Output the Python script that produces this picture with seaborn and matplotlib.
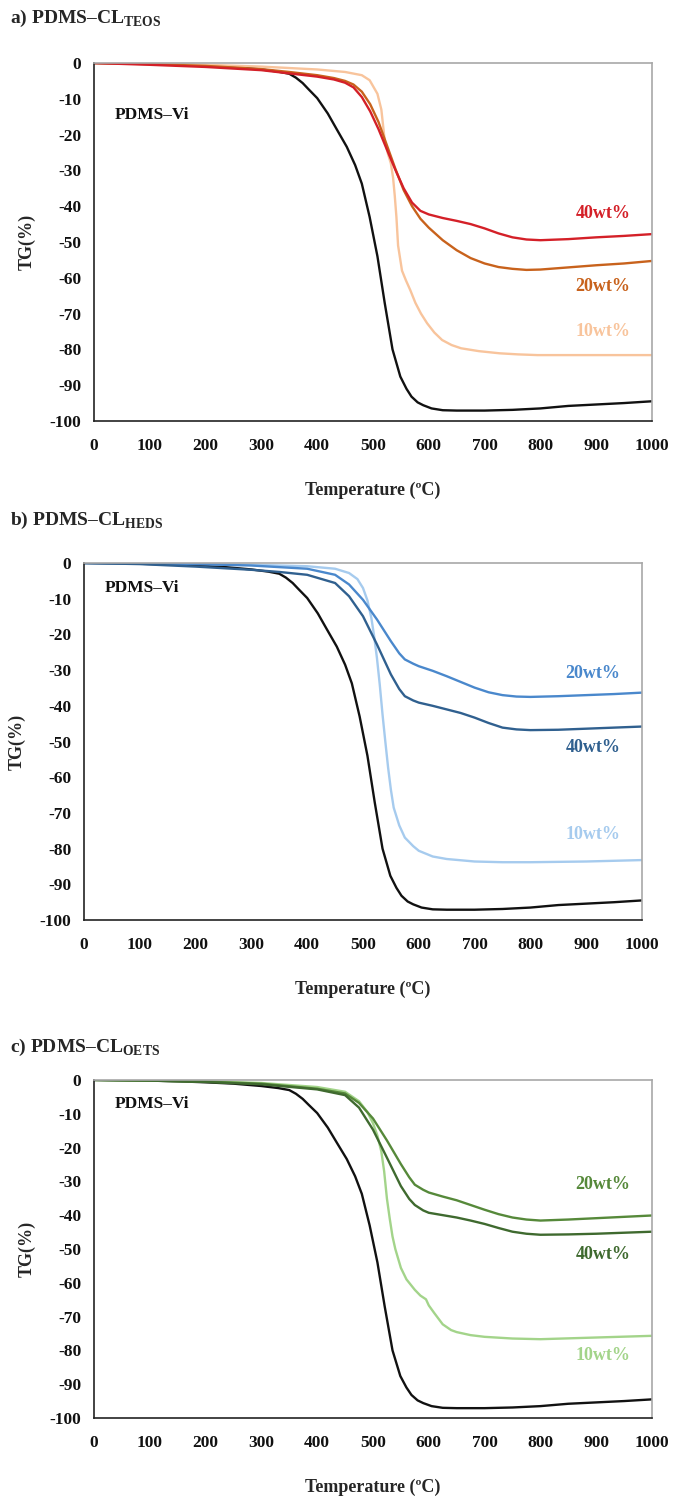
import matplotlib
matplotlib.use("Agg")
import matplotlib.pyplot as plt
import seaborn as sns

# ---- PDMS-Vi reference curve (shared by all panels) ----
T_vi = [0, 50, 100, 150, 200, 250, 300, 330, 350, 362, 374, 385, 400, 419, 435, 453, 468, 480, 494,
        508, 521, 535, 549, 560, 569, 580, 590, 605, 625, 650, 700, 750, 800, 850, 900, 950, 1000]
TG_vi = [0, -0.1, -0.2, -0.4, -0.7, -1.1, -1.8, -2.4, -3.0, -4.1, -5.6, -7.4, -9.8, -14.1, -18.5,
         -23.4, -28.5, -33.7, -43.0, -54.0, -67.0, -80.0, -87.6, -91.0, -93.2, -94.8, -95.6, -96.5,
         -97.0, -97.1, -97.1, -96.9, -96.5, -95.8, -95.4, -95.0, -94.5]

# ---- a) TEOS ----
T_teos40 = [0, 100, 200, 300, 350, 400, 430, 450, 465, 480, 495, 510, 525, 540, 555, 570, 585, 600,
            625, 650, 675, 700, 725, 750, 775, 800, 850, 900, 950, 1000]
TG_teos40 = [0, -0.5, -1.1, -2.0, -2.9, -3.8, -4.6, -5.5, -6.8, -9.5, -13.5, -18.5, -24.2, -29.8,
             -35.0, -39.0, -41.3, -42.3, -43.3, -44.1, -45.0, -46.2, -47.6, -48.7, -49.3, -49.5,
             -49.2, -48.7, -48.3, -47.8]
T_teos20 = [0, 100, 200, 300, 350, 400, 430, 450, 465, 480, 495, 510, 525, 540, 555, 570, 585, 600,
            625, 650, 675, 700, 725, 750, 775, 800, 850, 900, 950, 1000]
TG_teos20 = [0, -0.3, -0.8, -1.7, -2.5, -3.4, -4.2, -5.0, -6.0, -8.0, -11.5, -16.5, -23.0, -29.5,
             -35.5, -40.0, -43.5, -46.0, -49.5, -52.3, -54.5, -56.0, -57.0, -57.5, -57.8, -57.7,
             -57.1, -56.5, -56.0, -55.3]
T_teos10 = [0, 100, 200, 300, 400, 450, 480, 494, 508, 515, 521, 527, 532, 536, 539, 542, 545, 549,
            552, 559, 567, 576, 586, 597, 610, 624, 641, 658, 690, 727, 760, 795, 850, 900, 1000]
TG_teos10 = [0, -0.2, -0.5, -1.0, -1.8, -2.5, -3.4, -4.8, -8.6, -13.0, -21.6, -25.5, -28.0, -32.0,
             -37.0, -43.0, -51.0, -55.0, -58.0, -60.7, -63.5, -67.0, -70.0, -72.7, -75.3, -77.4,
             -78.8, -79.7, -80.5, -81.1, -81.4, -81.6, -81.6, -81.6, -81.6]

# ---- b) HEDS ----
T_heds20 = [0, 100, 200, 300, 400, 450, 475, 500, 525, 550, 565, 575, 590, 600, 625, 650, 675, 700,
            725, 750, 775, 800, 850, 900, 950, 1000]
TG_heds20 = [0, -0.1, -0.3, -0.7, -1.6, -3.3, -6.0, -10.3, -15.8, -21.9, -25.3, -27.0, -28.2, -28.9,
             -30.2, -31.7, -33.3, -34.9, -36.2, -37.0, -37.4, -37.5, -37.3, -37.0, -36.7, -36.3]
T_heds40 = [0, 100, 200, 300, 350, 400, 450, 475, 500, 525, 550, 565, 575, 590, 600, 625, 650, 675,
            700, 725, 750, 775, 800, 850, 900, 950, 1000]
TG_heds40 = [0, -0.3, -1.0, -1.9, -2.5, -3.3, -5.6, -9.3, -14.9, -22.8, -31.2, -35.3, -37.3, -38.5,
             -39.1, -40.0, -41.0, -42.0, -43.3, -44.8, -46.1, -46.6, -46.8, -46.7, -46.4, -46.1, -45.8]
T_heds10 = [0, 100, 200, 300, 400, 450, 475, 490, 500, 508, 515, 520, 525, 530, 535, 540, 545, 550,
            555, 565, 575, 590, 600, 625, 650, 700, 750, 800, 900, 1000]
TG_heds10 = [0, -0.1, -0.2, -0.5, -0.9, -1.6, -2.8, -4.5, -7.0, -10.5, -15.4, -20.5, -26.6, -34.0,
             -42.4, -50.0, -57.3, -63.5, -68.5, -73.5, -76.9, -79.3, -80.6, -82.2, -82.9, -83.6,
             -83.8, -83.8, -83.6, -83.2]

# ---- c) OETS ----
T_oets20 = [0, 100, 200, 300, 400, 450, 475, 500, 525, 550, 565, 575, 590, 600, 625, 650, 675, 700,
            725, 750, 775, 800, 850, 900, 950, 1000]
TG_oets20 = [0, -0.2, -0.5, -1.1, -2.6, -4.0, -6.8, -11.4, -17.9, -24.9, -28.8, -31.0, -32.5, -33.3,
             -34.5, -35.6, -37.0, -38.4, -39.7, -40.7, -41.3, -41.6, -41.3, -40.9, -40.5, -40.1]
T_oets40 = [0, 100, 200, 300, 400, 450, 475, 500, 525, 550, 565, 575, 590, 600, 625, 650, 675, 700,
            725, 750, 775, 800, 850, 900, 950, 1000]
TG_oets40 = [0, -0.2, -0.6, -1.3, -2.8, -4.5, -8.2, -14.7, -23.0, -31.4, -35.2, -37.0, -38.6, -39.3,
             -40.0, -40.7, -41.6, -42.6, -43.8, -44.9, -45.5, -45.8, -45.7, -45.5, -45.2, -44.9]
T_oets10 = [0, 100, 200, 300, 400, 450, 475, 490, 500, 508, 515, 520, 525, 530, 535, 540, 550, 560,
            575, 585, 595, 600, 610, 625, 640, 650, 675, 700, 750, 800, 900, 1000]
TG_oets10 = [0, -0.2, -0.4, -0.9, -2.1, -3.5, -6.3, -9.5, -12.8, -16.5, -21.2, -27.0, -35.1, -41.0,
             -46.3, -50.0, -55.6, -59.0, -62.1, -63.8, -64.9, -66.7, -69.0, -72.3, -74.0, -74.6,
             -75.5, -76.0, -76.5, -76.7, -76.2, -75.7]

x_ticks = list(range(0, 1001, 100))
y_ticks = list(range(0, -101, -10))

panels = [
    dict(title="a) PDMS–CL$_{\\mathbf{TEOS}}$",
         rect=[0.1384, 0.7188, 0.8218, 0.2391], title_y=18, vi_label=(38, -14.5),
         series=[(T_teos10, TG_teos10, "#F8C49C", "10wt%", -75.0),
                 (T_teos20, TG_teos20, "#C8621C", "20wt%", -62.5),
                 (T_teos40, TG_teos40, "#D42028", "40wt%", -42.0)]),
    dict(title="b) PDMS–CL$_{\\mathbf{HEDS}}$",
         rect=[0.1237, 0.3854, 0.8218, 0.2385], title_y=520, vi_label=(38, -7.0),
         series=[(T_heds10, TG_heds10, "#A6CBEE", "10wt%", -76.0),
                 (T_heds20, TG_heds20, "#4A88CC", "20wt%", -31.0),
                 (T_heds40, TG_heds40, "#30608F", "40wt%", -51.7)]),
    dict(title="c) PDMS–CL$_{\\mathbf{OETS}}$",
         rect=[0.1384, 0.0528, 0.8218, 0.2258], title_y=1047, vi_label=(38, -7.0),
         series=[(T_oets10, TG_oets10, "#A3D48A", "10wt%", -81.4),
                 (T_oets20, TG_oets20, "#56893A", "20wt%", -31.0),
                 (T_oets40, TG_oets40, "#3F6A2F", "40wt%", -51.6)]),
]

sns.set_style("white")
plt.rcParams["font.family"] = ["Liberation Serif", "DejaVu Serif"]
plt.rcParams["font.weight"] = "bold"
plt.rcParams["axes.unicode_minus"] = False
plt.rcParams["mathtext.fontset"] = "custom"
plt.rcParams["mathtext.rm"] = "Liberation Serif"
plt.rcParams["mathtext.bf"] = "Liberation Serif:bold"

W, H = 679, 1497
fig = plt.figure(figsize=(W / 100, H / 100), dpi=100)

for p in panels:
    ax = fig.add_axes(p["rect"])
    sns.lineplot(x=T_vi, y=TG_vi, ax=ax, color="#111111", lw=1.7, sort=False, estimator=None)
    for T, TG, col, lab, ly in p["series"]:
        sns.lineplot(x=T, y=TG, ax=ax, color=col, lw=1.7, sort=False, estimator=None)
        ax.text(912, ly, lab, color=col, fontsize=13, fontweight="bold",
                ha="center", va="center")
    ax.text(p["vi_label"][0], p["vi_label"][1], "PDMS–Vi", color="#111111", fontsize=12.5,
            fontweight="bold", ha="left", va="center")

    ax.set_xlim(0, 1000)
    ax.set_ylim(-100, 0)
    ax.set_xticks(x_ticks)
    ax.set_yticks(y_ticks)
    ax.tick_params(axis="both", direction="in", length=5, width=1, labelsize=12.5,
                   colors="#111111", pad=9)
    ax.tick_params(axis="x", pad=12)
    for side in ("left", "bottom"):
        ax.spines[side].set_color("#222222")
        ax.spines[side].set_linewidth(1.2)
    for side in ("top", "right"):
        ax.spines[side].set_color("#a8a8a8")
        ax.spines[side].set_linewidth(1.2)
    for t in ax.get_xticklabels() + ax.get_yticklabels():
        t.set_fontweight("bold")
    ax.set_xlabel("Temperature (ºC)", fontsize=13, fontweight="bold", labelpad=20)
    ax.set_ylabel("TG(%)", fontsize=13, fontweight="bold", labelpad=10)

    fig.text(10 / W, 1 - p["title_y"] / H, p["title"], fontsize=14, fontweight="bold",
             ha="left", va="center")

fig.savefig("out.png", dpi=100)
